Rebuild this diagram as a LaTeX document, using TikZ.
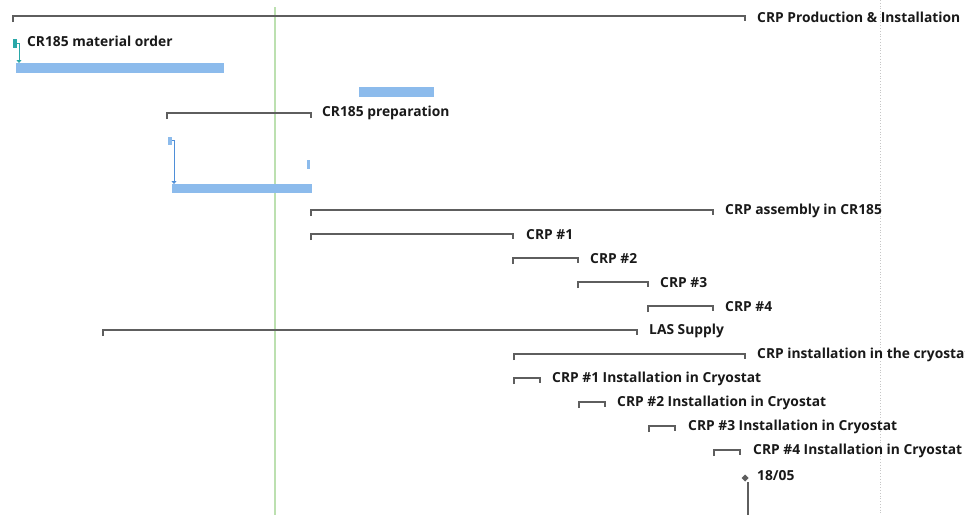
\documentclass[tikz,border=0pt]{standalone}
\usepackage{fontspec}
\setmainfont{Open Sans}
\usetikzlibrary{arrows.meta}
\definecolor{brk}{HTML}{5E5E5E}
\definecolor{barblue}{HTML}{8CBBEC}
\definecolor{linkblue}{HTML}{4F8FD8}
\definecolor{teal}{HTML}{2AA8A8}
\definecolor{today}{HTML}{BCE0B0}
\tikzset{
  lbl/.style={anchor=west, inner sep=0pt, font=\bfseries\fontsize{13.8}{16}\selectfont, text=black!90},
  brkline/.style={draw=brk, line width=2.2pt},
  taskbar/.style={fill=barblue, draw=none},
}
\newcommand{\brk}[3]{\draw[brkline] (#1,#3+6) -- (#1,#3) -- (#2,#3) -- (#2,#3+5);}
\begin{document}
\begin{tikzpicture}[x=1pt,y=-1pt]
\useasboundingbox (0,0) rectangle (965,515);
\fill[white] (0,0) rectangle (965,515);
% guide lines
\draw[today, line width=1.1pt] (275,7) -- (275,515);
\draw[gray!45, dotted, line width=0.8pt] (880,0) -- (880,515);
% summary brackets
\brk{13}{745}{16}
\node[lbl] (t1) at (757,17) {CRP Production \& Installation};
% material order
\fill[teal] (12.5,39) rectangle (16.5,48);
\node[lbl] (t2) at (27,41) {CR185 material order};
\coordinate (ms) at (16.5,43);
\coordinate (mt) at (19,63);
\draw[teal, line width=0.8pt, -{Triangle[width=5pt,length=3pt]}] (ms) -| (mt);
\fill[barblue] (16,63) rectangle (224,73);
% floating bar
\fill[barblue] (359,87) rectangle (434,97);
% preparation
\brk{167}{311}{113}
\node[lbl] (t3) at (322,113) {CR185 preparation};
\fill[barblue] (168,137) rectangle (171.5,145);
\coordinate (ps) at (171.5,140);
\coordinate (pt) at (174,184);
\draw[linkblue, line width=0.8pt, -{Triangle[width=5pt,length=3pt]}] (ps) -| (pt);
\fill[barblue] (307,160) rectangle (310,169);
\fill[barblue] (172,184) rectangle (311.5,193);
% assembly
\brk{311}{713}{210}
\node[lbl] (t4) at (725,211) {CRP assembly in CR185};
\brk{311}{513}{234}
\node[lbl] (t5) at (526,235) {CRP \#1};
\brk{513}{578}{258}
\node[lbl] (t6) at (590,259) {CRP \#2};
\brk{578}{648}{282}
\node[lbl] (t7) at (660,283) {CRP \#3};
\brk{648}{713}{306}
\node[lbl] (t8) at (725,307) {CRP \#4};
\brk{103}{637}{330}
\node[lbl] (t9) at (649,331) {LAS Supply};
% installation
\brk{514}{745}{354}
\node[lbl] (t10) at (757,355) {CRP installation in the cryostat};
\brk{514}{540}{378}
\node[lbl] (t11) at (552,379) {CRP \#1 Installation in Cryostat};
\brk{579}{605}{402}
\node[lbl] (t12) at (617,403) {CRP \#2 Installation in Cryostat};
\brk{649}{675}{426}
\node[lbl] (t13) at (688,427) {CRP \#3 Installation in Cryostat};
\brk{714}{740}{450}
\node[lbl] (t14) at (753,451) {CRP \#4 Installation in Cryostat};
% milestone
\draw[brk, line width=1.2pt] (748,482) -- (748,515);
\fill[brk] (745,474.5) -- (748.5,478) -- (745,481.5) -- (741.5,478) -- cycle;
\node[lbl] (t15) at (757,476) {18/05};
\end{tikzpicture}
\end{document}
